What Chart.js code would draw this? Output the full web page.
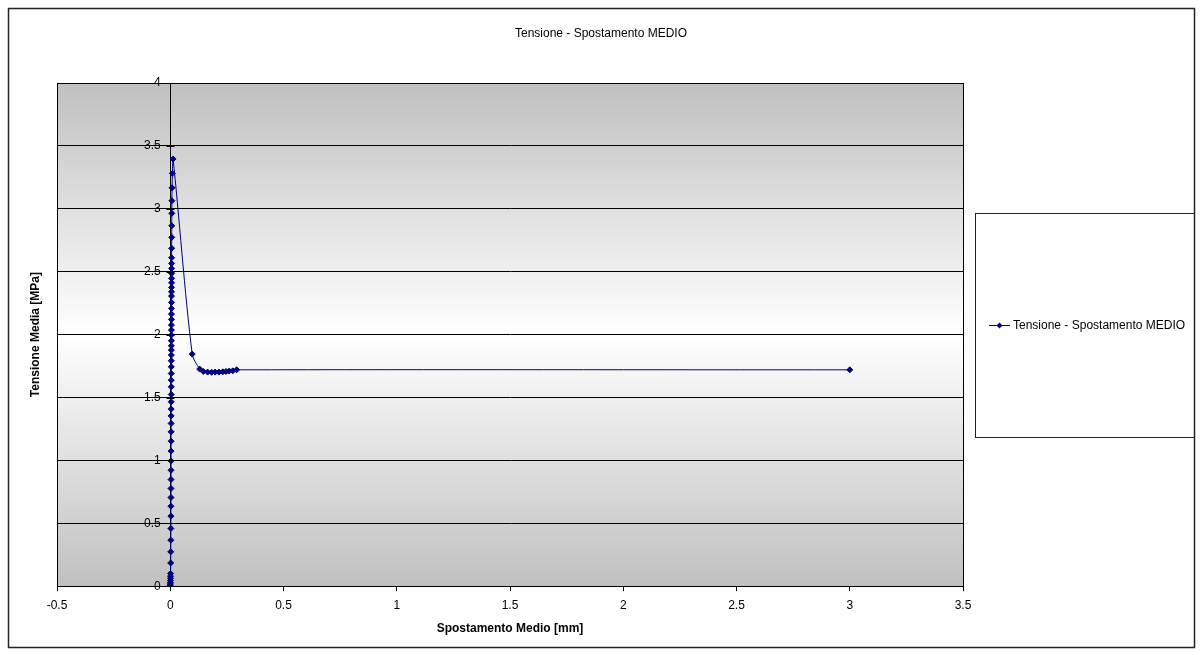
<!DOCTYPE html>
<html>
<head>
<meta charset="utf-8">
<title>Tensione - Spostamento MEDIO</title>
<script src="https://cdn.jsdelivr.net/npm/chart.js@4.4.1/dist/chart.umd.min.js"></script>
<style>
    html, body { margin: 0; padding: 0; background: #ffffff; }
    #wrap { width: 1202px; height: 655px; }
</style>
</head>
<body>
<div id="wrap"><canvas id="tensionChart"></canvas></div>
<script>

// ==========================
// DATA
// ==========================

const chartTitle = "Tensione - Spostamento MEDIO";
const seriesName = "Tensione - Spostamento MEDIO";
const xTitle = "Spostamento Medio [mm]";
const yTitle = "Tensione Media [MPa]";

const xTicks = [-0.5, 0, 0.5, 1, 1.5, 2, 2.5, 3, 3.5];
const yTicks = [0, 0.5, 1, 1.5, 2, 2.5, 3, 3.5, 4];

// spostamento medio [mm]
const spostamento = [
    0, 0.0003, 0.0005, 0.0007, 0.0009, 0.001, 0.0012, 0.0015,
    0.002, 0.0022, 0.0025, 0.0027, 0.003, 0.003, 0.0032, 0.0033,
    0.0034, 0.0035, 0.0036, 0.0037, 0.0038, 0.0039, 0.004, 0.004,
    0.0041, 0.0042, 0.0043, 0.0044, 0.0045, 0.0045, 0.0046, 0.0047,
    0.0048, 0.0048, 0.0049, 0.005, 0.005, 0.0051, 0.0052, 0.0052,
    0.0053, 0.0054, 0.0055, 0.0056, 0.0056, 0.0057, 0.0058, 0.0058,
    0.0059, 0.006, 0.006, 0.0061, 0.0063, 0.0065, 0.0067, 0.007,
    0.0073, 0.008, 0.0095, 0.0125,
    0.097, 0.13, 0.146, 0.165, 0.183, 0.198, 0.215, 0.232,
    0.246, 0.26, 0.276, 0.293, 3.0
];

// tensione media [MPa]
const tensione = [
    0, 0.008, 0.018, 0.03, 0.045, 0.062, 0.08, 0.101,
    0.185, 0.273, 0.366, 0.459, 0.557, 0.636, 0.705, 0.777,
    0.848, 0.922, 0.996, 1.074, 1.153, 1.227, 1.294, 1.354,
    1.408, 1.466, 1.524, 1.585, 1.638, 1.691, 1.744, 1.792,
    1.837, 1.877, 1.911, 1.951, 1.996, 2.036, 2.076, 2.121,
    2.163, 2.208, 2.256, 2.306, 2.340, 2.375, 2.412, 2.447,
    2.487, 2.526, 2.566, 2.611, 2.686, 2.773, 2.865, 2.964,
    3.064, 3.167, 3.282, 3.396,
    1.845, 1.726, 1.707, 1.702, 1.700, 1.702, 1.702, 1.704,
    1.707, 1.710, 1.712, 1.720, 1.720
];

const lineColor = "#000080";

// ==========================
// DEFAULTS
// ==========================

Chart.defaults.font.family = "'Liberation Sans', Arial, sans-serif";
Chart.defaults.font.size = 12;
Chart.defaults.color = "#000000";

// ==========================
// FRAME PLUGIN (background, borders, legend box)
// ==========================

const framePlugin = {

    id: "frame",

    beforeDraw(chart) {

        const c = chart.ctx;
        const a = chart.chartArea;

        c.save();
        c.fillStyle = "#ffffff";
        c.fillRect(0, 0, chart.width, chart.height);

        // outer border
        c.strokeStyle = "#222222";
        c.lineWidth = 1.5;
        c.strokeRect(8.5, 8.5, 1186, 639);

        // plot area gradient
        const g = c.createLinearGradient(0, a.top, 0, a.bottom);
        g.addColorStop(0, "#c0c0c0");
        g.addColorStop(0.5, "#ffffff");
        g.addColorStop(1, "#c0c0c0");
        c.fillStyle = g;
        c.fillRect(a.left, a.top, a.right - a.left, a.bottom - a.top);
        c.restore();
    },

    afterDraw(chart) {

        const c = chart.ctx;
        const a = chart.chartArea;

        c.save();

        // plot area border
        c.strokeStyle = "#000000";
        c.lineWidth = 1;
        c.strokeRect(Math.round(a.left) + 0.5, Math.round(a.top) + 0.5,
            Math.round(a.right - a.left), Math.round(a.bottom - a.top));

        // short cross ticks on the vertical axis at x = 0
        const x0 = Math.round(chart.scales.x.getPixelForValue(0)) + 0.5;
        c.beginPath();
        yTicks.forEach(v => {
            const py = Math.round(chart.scales.y.getPixelForValue(v)) + 0.5;
            c.moveTo(x0 - 4, py);
            c.lineTo(x0 + 4, py);
        });
        c.stroke();

        // legend box
        c.strokeStyle = "#222222";
        c.strokeRect(975.5, 213.5, 219, 224);

        const ly = 325;
        c.strokeStyle = lineColor;
        c.beginPath();
        c.moveTo(989, ly + 0.5);
        c.lineTo(1010, ly + 0.5);
        c.stroke();

        c.fillStyle = lineColor;
        c.beginPath();
        c.moveTo(999.5, ly - 2.5);
        c.lineTo(1002.5, ly + 0.5);
        c.lineTo(999.5, ly + 3.5);
        c.lineTo(996.5, ly + 0.5);
        c.closePath();
        c.fill();

        c.fillStyle = "#000000";
        c.font = "12px 'Liberation Sans', Arial, sans-serif";
        c.textAlign = "left";
        c.textBaseline = "middle";
        c.fillText(seriesName, 1013, ly + 1);

        c.restore();
    }
};

// ==========================
// CHART
// ==========================

const ctx =
document.getElementById(
    "tensionChart");

new Chart(ctx, {

    type: "line",

    data: {

        datasets: [{

            label: seriesName,

            data: spostamento.map((x, i) => ({ x: x, y: tensione[i] })),

            borderColor: lineColor,
            backgroundColor: lineColor,
            borderWidth: 1,

            pointStyle: "rectRot",
            pointRadius: 3,
            pointBorderWidth: 1,
            pointBackgroundColor: lineColor,
            pointBorderColor: lineColor,

            tension: 0.3,
            fill: false,

            xAxisID: "x",
            yAxisID: "y"
        }]
    },

    options: {

        responsive: true,
        maintainAspectRatio: false,
        animation: false,

        layout: {
            padding: { left: 0, right: 0, top: 0, bottom: 13 }
        },

        plugins: {

            legend: { display: false },

            tooltip: { enabled: false },

            title: {
                display: true,
                text: chartTitle,
                font: { size: 12, weight: "normal" },
                color: "#000000",
                padding: { top: 26, bottom: 42.6 }
            }
        },

        scales: {

            x: {
                type: "linear",
                position: "bottom",
                min: -0.5,
                max: 3.5,
                afterBuildTicks: (s) => {
                    s.ticks = xTicks.map(v => ({ value: v }));
                },
                ticks: {
                    padding: 7,
                    color: "#000000",
                    font: { size: 12 },
                    callback: (v) => String(v)
                },
                grid: {
                    drawOnChartArea: true,
                    drawTicks: true,
                    tickLength: 5,
                    // only the vertical axis line at x = 0
                    color: (c) => (c.tick && c.tick.value === 0) ? "#000000" : "rgba(0,0,0,0)",
                    tickColor: "#000000"
                },
                border: { display: true, color: "#000000" },
                title: {
                    display: true,
                    text: xTitle,
                    font: { size: 12, weight: "bold" },
                    color: "#000000",
                    padding: { top: 2, bottom: 6 }
                }
            },

            y: {
                type: "linear",
                position: "left",
                weight: 0,
                min: 0,
                max: 4,
                afterBuildTicks: (s) => {
                    s.ticks = yTicks.map(v => ({ value: v }));
                },
                ticks: {
                    // labels sit next to the x = 0 line
                    mirror: true,
                    crossAlign: "far",
                    padding: 87,
                    color: "#000000",
                    font: { size: 12 },
                    callback: (v) => String(v)
                },
                grid: {
                    color: "#000000",
                    drawTicks: false
                },
                border: { display: true, color: "#000000" },
                afterFit: (s) => {
                    s.width = 0;
                    s.paddingTop = 0;
                    s.paddingBottom = 0;
                }
            },

            yLabel: {
                type: "linear",
                position: "left",
                weight: 1,
                ticks: { display: false },
                grid: { display: false },
                border: { display: false },
                title: {
                    display: true,
                    text: yTitle,
                    font: { size: 12, weight: "bold" },
                    color: "#000000",
                    padding: { top: 28, bottom: 0 }
                },
                afterFit: (s) => { s.width = 57; }
            },

            ySpace: {
                type: "linear",
                position: "right",
                ticks: { display: false },
                grid: { display: false },
                border: { display: false },
                afterFit: (s) => { s.width = 239; }
            }
        }
    },

    plugins: [framePlugin]
});

</script>
</body>
</html>
